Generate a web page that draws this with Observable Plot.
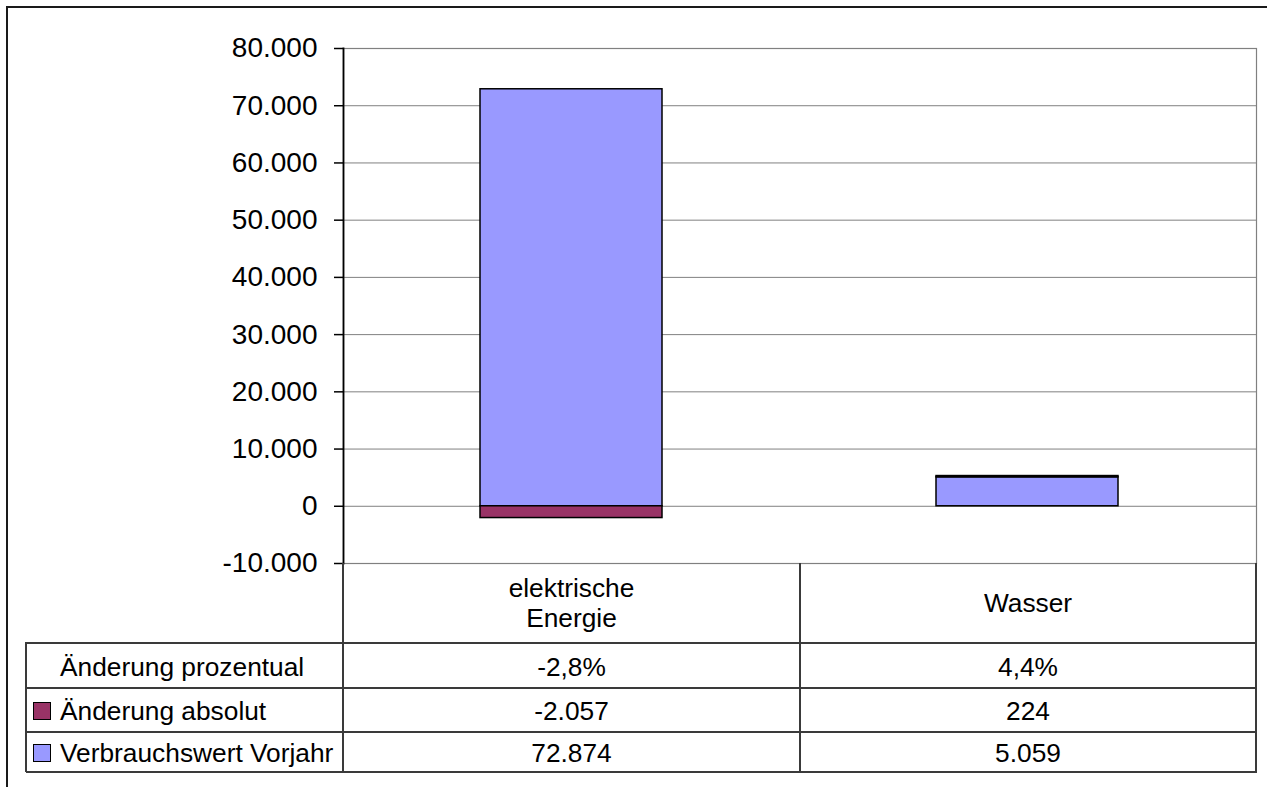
<!DOCTYPE html>
<html><head><meta charset="utf-8">
<script src="https://cdn.jsdelivr.net/npm/d3@7"></script>
<script src="https://cdn.jsdelivr.net/npm/@observablehq/plot@0.6"></script>
<style>
body{margin:0;background:#fff;overflow:hidden;}
#wrap{position:relative;width:1267px;height:787px;overflow:hidden;font-family:"Liberation Sans",Arial,sans-serif;}
#outer{position:absolute;left:6px;top:6px;width:1300px;height:779px;border-left:2px solid #1a1a1a;border-top:2px solid #1a1a1a;}
#chart{position:absolute;left:0;top:0;}
.cell{position:absolute;box-sizing:border-box;display:flex;align-items:center;justify-content:center;font-size:26.3px;color:#000;text-align:center;white-space:pre-line;line-height:30px;}
.lab{justify-content:flex-start;}
.sw{position:absolute;box-sizing:border-box;width:18px;height:18px;border:1.5px solid #000;}
.ln{position:absolute;background:#3a3a3a;}
</style></head><body><div id="wrap"><div id="outer"></div><div id="chart"></div><div id="table"></div></div>
<script>
const categories = ["elektrische\nEnergie", "Wasser"];
const rowNames = ["Änderung prozentual", "Änderung absolut", "Verbrauchswert Vorjahr"];
const prozentual = [-2.8, 4.4];
const absolut = [-2057, 224];
const vorjahr = [72874, 5059];
const yTicks = [-10000, 0, 10000, 20000, 30000, 40000, 50000, 60000, 70000, 80000];
const seriesColors = ["#993366", "#9999FF"]; // Änderung absolut, Verbrauchswert Vorjahr

const de = d3.formatLocale({decimal: ",", thousands: ".", grouping: [3], currency: ["", " €"], minus: "-"});
const fmtInt = de.format(",d");
const fmtPct = v => de.format(".1f")(v) + "%";

const data = [];
categories.forEach((c, i) => data.push({cat: c, series: rowNames[2], value: vorjahr[i]}));
categories.forEach((c, i) => data.push({cat: c, series: rowNames[1], value: absolut[i]}));

const chart = Plot.plot({
  width: 1267, height: 565,
  marginLeft: 343, marginRight: 11, marginTop: 48, marginBottom: 2,
  style: {fontFamily: '"Liberation Sans", Arial, sans-serif', fontSize: "28px", color: "#000", background: "transparent", overflow: "visible"},
  x: {domain: categories, paddingInner: 0.6, paddingOuter: 0.3, axis: null},
  y: {domain: [-10000, 80000], axis: null},
  color: {domain: [rowNames[1], rowNames[2]], range: seriesColors},
  marks: [
    Plot.gridY(yTicks, {stroke: "#808080", strokeOpacity: 1, strokeWidth: 1}),
    Plot.frame({stroke: "#808080", strokeWidth: 1.2}),
    Plot.barY(data, {x: "cat", y: "value", fill: "series", stroke: "#000", strokeWidth: 1.5}),
    Plot.axisY(yTicks, {tickSize: 9, tickPadding: 17, tickFormat: fmtInt, label: null, stroke: "#000", strokeWidth: 1.5, fontSize: 28}),
    Plot.frame({anchor: "left", stroke: "#000", strokeWidth: 1.8})
  ]
});
document.getElementById("chart").appendChild(chart);

// data table (acts as legend)
const T = document.getElementById("table");
const colX = [343, 800, 1256];
const headTop = 563, headBot = 643;
const rowTops = [643, 688, 732, 772];
const labLeft = 26;
function cell(x, y, w, h, text, cls) {
  const d = document.createElement("div");
  d.className = "cell" + (cls ? " " + cls : "");
  Object.assign(d.style, {left: x + "px", top: y + "px", width: w + "px", height: h + "px"});
  d.textContent = text;
  T.appendChild(d);
  return d;
}
function line(x, y, w, h) {
  const d = document.createElement("div");
  d.className = "ln";
  Object.assign(d.style, {left: x + "px", top: y + "px", width: w + "px", height: h + "px"});
  T.appendChild(d);
}
categories.forEach((c, i) => cell(colX[i], headTop, colX[i + 1] - colX[i], headBot - headTop, c));
const rowVals = [prozentual.map(fmtPct), absolut.map(fmtInt), vorjahr.map(fmtInt)];
const rowSw = [null, seriesColors[0], seriesColors[1]];
rowNames.forEach((name, r) => {
  const y0 = rowTops[r], h = rowTops[r + 1] - rowTops[r];
  cell(60, y0 + 1, colX[0] - 60, h, name, "lab");
  if (rowSw[r]) {
    const s = document.createElement("div");
    s.className = "sw";
    Object.assign(s.style, {left: "33px", top: (y0 + h / 2 - 8) + "px", background: rowSw[r]});
    T.appendChild(s);
  }
  categories.forEach((c, i) => cell(colX[i], y0 + 1, colX[i + 1] - colX[i], h, rowVals[r][i]));
});
// table lines
[headBot, ...rowTops.slice(1)].forEach(y => line(labLeft, y - 1, colX[2] - labLeft + 1, 2));
colX.forEach(x => line(x - 1, headTop, 2, rowTops[3] - headTop + 1));
line(labLeft - 1, headBot - 1, 2, rowTops[3] - headBot + 1);
</script></body></html>
